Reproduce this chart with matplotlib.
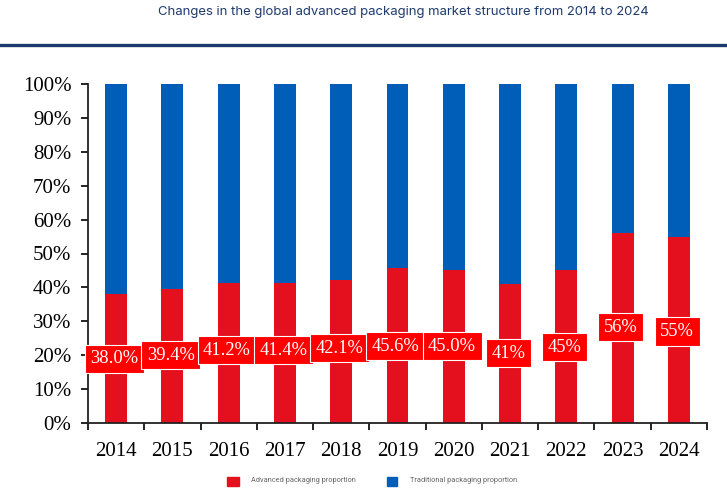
import matplotlib
matplotlib.use("Agg")
import matplotlib.pyplot as plt
from matplotlib.lines import Line2D
from matplotlib.patches import Rectangle

years = ["2014", "2015", "2016", "2017", "2018", "2019", "2020", "2021", "2022", "2023", "2024"]
advanced = [38.0, 39.4, 41.2, 41.4, 42.1, 45.6, 45.0, 41, 45, 56, 55]
labels = ["38.0%", "39.4%", "41.2%", "41.4%", "42.1%", "45.6%", "45.0%", "41%", "45%", "56%", "55%"]
traditional = [100 - v for v in advanced]
label_y = [19, 20, 21.5, 21.5, 22, 22.7, 22.6, 20.6, 22.4, 28.3, 27]

RED = "#e5101d"
BLUE = "#005eb8"
BOX_RED = "#ff0000"

W, H = 727, 496
fig = plt.figure(figsize=(W / 100, H / 100), dpi=100)
fig.patch.set_facecolor("white")

# title and header rule
fig.text(403.5 / W, 1 - 12 / H, "Changes in the global advanced packaging market structure from 2014 to 2024",
         ha="center", va="center", fontsize=9.45, color="#1e3a6e", family="Inter")
fig.add_artist(Line2D([0, 1], [1 - 45 / H, 1 - 45 / H], color="#1b3a6b", lw=2.4,
                      transform=fig.transFigure))

ax = fig.add_axes([88 / W, (H - 423) / H, (707 - 88) / W, (423 - 84) / H])
x = list(range(len(years)))
ax.bar(x, advanced, width=0.39, color=RED, zorder=2)
ax.bar(x, traditional, bottom=advanced, width=0.39, color=BLUE, zorder=2)

for xi, yv, t in zip(x, label_y, labels):
    ax.text(xi - 0.03, yv, t, ha="center", va="center", fontsize=13.3, color="white",
            family="Liberation Serif", zorder=4,
            bbox=dict(boxstyle="square,pad=0.3", fc=BOX_RED, ec="white", lw=0.8))

ax.set_xlim(-0.5, len(years) - 0.5)
ax.set_ylim(0, 100)
ax.set_yticks(range(0, 101, 10))
ax.set_yticklabels([f"{v}%" for v in range(0, 101, 10)], family="Liberation Serif", fontsize=15)
ax.set_xticks(x)
ax.set_xticklabels(years, family="Liberation Serif", fontsize=15)
ax.tick_params(axis="x", which="major", length=0, pad=14)
ax.set_xticks([i - 0.5 for i in range(len(years) + 1)], minor=True)
ax.tick_params(axis="x", which="minor", length=5, width=1.2, direction="out")
ax.tick_params(axis="y", length=5, width=1.2, direction="out", pad=7)
for s in ["top", "right"]:
    ax.spines[s].set_visible(False)
for s in ["left", "bottom"]:
    ax.spines[s].set_linewidth(1.3)
    ax.spines[s].set_color("#222222")

# legend
def fx(px):
    return px / W
def fy(py):
    return 1 - py / H
fig.add_artist(Rectangle((fx(227), fy(486)), 12 / W, 9 / H, transform=fig.transFigure, color=RED))
fig.text(fx(251), fy(480.5), "Advanced packaging proportion", fontsize=5.3, color="#666666",
         va="center", ha="left", family="Roboto")
fig.add_artist(Rectangle((fx(387), fy(486)), 10 / W, 9 / H, transform=fig.transFigure, color=BLUE))
fig.text(fx(410), fy(481), "Traditional packaging proportion", fontsize=5.3, color="#666666",
         va="center", ha="left", family="Roboto")

fig.savefig("out.png", dpi=100)
